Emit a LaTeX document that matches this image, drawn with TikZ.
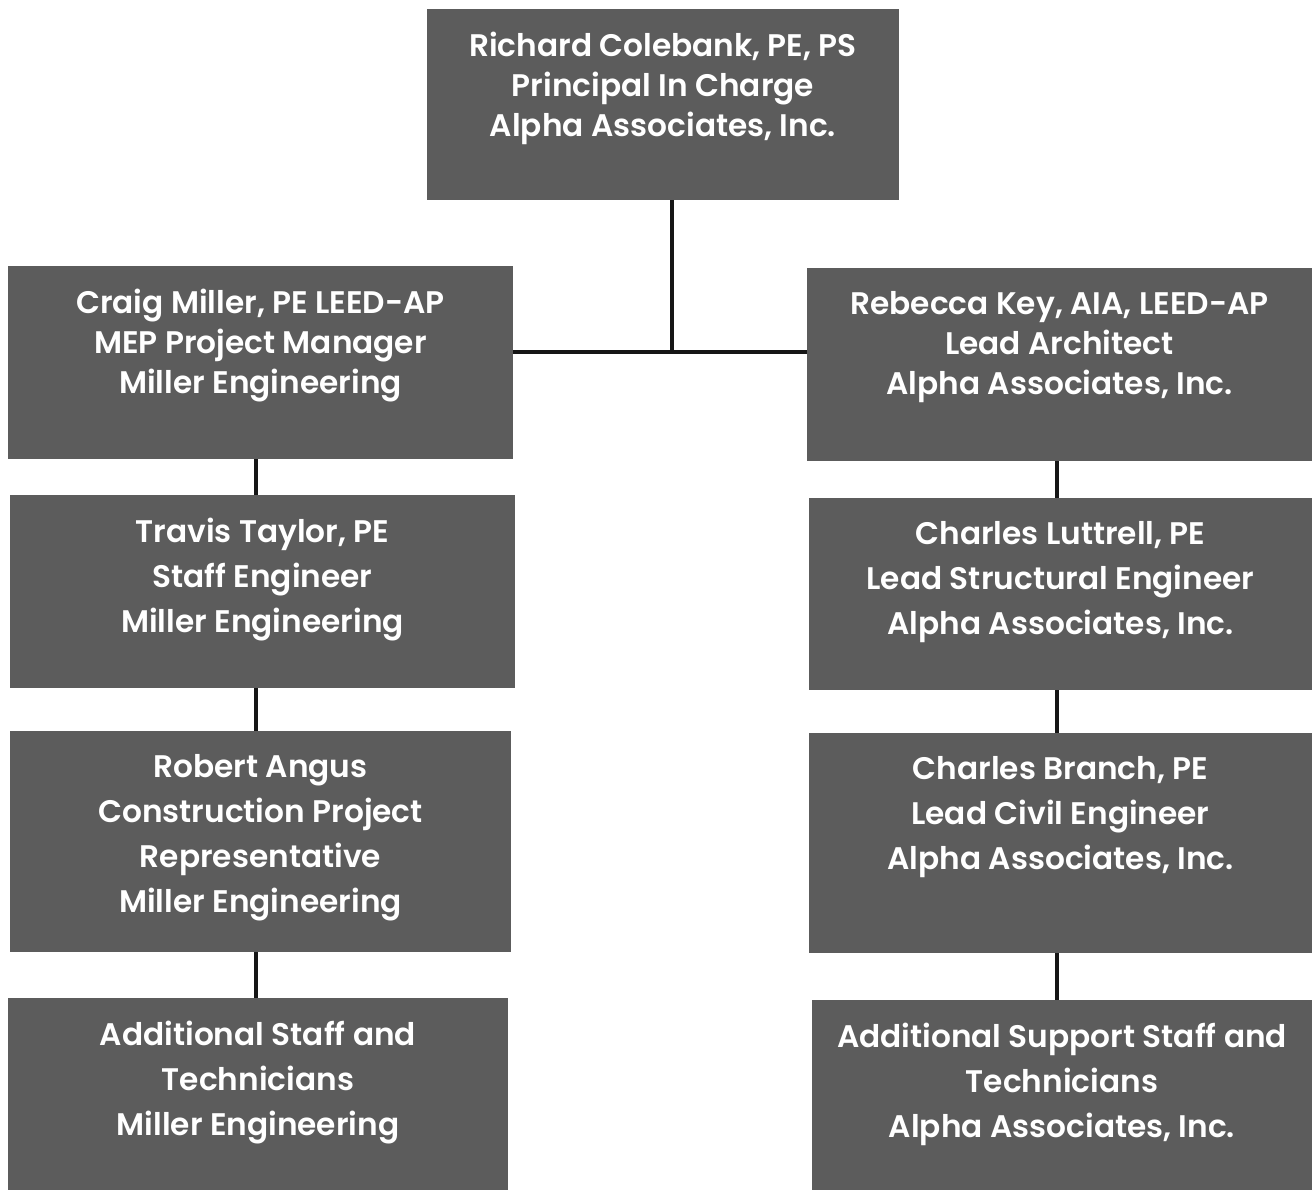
\documentclass[tikz,border=0pt]{standalone}
\usepackage{fontspec}
\newfontfamily\orgfont{Poppins}[UprightFont=* Medium, BoldFont=* SemiBold]
\usetikzlibrary{positioning,calc}
\definecolor{cardgray}{RGB}{92,92,92}
\definecolor{wire}{RGB}{22,22,22}

\begin{document}
\begin{tikzpicture}[
  x=0.5pt, y=-0.5pt,
  card/.style={rectangle, fill=cardgray, inner sep=0pt, outer sep=0pt},
  who/.style={align=center, inner sep=0pt, text=white, font=\orgfont\bfseries\fontsize{15.6}{22.5}\selectfont},
  whotop/.style={who, font=\orgfont\bfseries\fontsize{15.6}{20}\selectfont},
  link/.style={draw=wire, line width=2pt},
]
\useasboundingbox (0,0) rectangle (1312,1190);

% === Principal ===
\node[card, minimum width=236pt, minimum height=95.5pt] (colebank) at (663,104.5) {};
\node[whotop, below=11.3pt of colebank.north] (colebank-t) {Richard Colebank, PE, PS\\Principal In Charge\\Alpha Associates, Inc.};

% === Left column: Miller Engineering ===
\node[card, minimum width=252.5pt, minimum height=96.5pt] (miller) at (260.5,362.5) {};
\node[whotop, below=11.3pt of miller.north] (miller-t) {Craig Miller, PE LEED-AP\\MEP Project Manager\\Miller Engineering};

\node[card, minimum width=252.5pt, minimum height=96.5pt] (taylor) at (262.5,591.5) {};
\node[who, below=11.3pt of taylor.north] (taylor-t) {Travis Taylor, PE\\Staff Engineer\\Miller Engineering};

\node[card, minimum width=250.5pt, minimum height=110.5pt] (angus) at (260.5,841.5) {};
\node[who, below=11.3pt of angus.north] (angus-t) {Robert Angus\\Construction Project\\Representative\\Miller Engineering};

\node[card, minimum width=250pt, minimum height=96pt] (staffL) at (258,1094) {};
\node[who, below=11.3pt of staffL.north] (staffL-t) {Additional Staff and\\Technicians\\Miller Engineering};

% === Right column: Alpha Associates ===
\node[card, minimum width=252.5pt, minimum height=96.5pt] (key) at (1059.5,364.5) {};
\node[whotop, below=11.3pt of key.north] (key-t) {Rebecca Key, AIA, LEED-AP\\Lead Architect\\Alpha Associates, Inc.};

\node[card, minimum width=251.5pt, minimum height=96pt] (luttrell) at (1060.5,594) {};
\node[who, below=11.3pt of luttrell.north] (luttrell-t) {Charles Luttrell, PE\\Lead Structural Engineer\\Alpha Associates, Inc.};

\node[card, minimum width=251.5pt, minimum height=110pt] (branch) at (1060.5,843) {};
\node[who, below=11.3pt of branch.north] (branch-t) {Charles Branch, PE\\Lead Civil Engineer\\Alpha Associates, Inc.};

\node[card, minimum width=250pt, minimum height=95pt] (staffR) at (1062,1095) {};
\node[who, below=11.3pt of staffR.north] (staffR-t) {Additional Support Staff and\\Technicians\\Alpha Associates, Inc.};

% === Connectors ===
\coordinate (hub) at (672,352);
\coordinate (spineL) at (256,0);
\coordinate (spineR) at (1057,0);
\draw[link] (colebank.south -| hub) -- (hub);
\draw[link] (miller.east |- hub) -- (key.west |- hub);

\draw[link] (miller.south -| spineL) -- (taylor.north -| spineL);
\draw[link] (taylor.south -| spineL) -- (angus.north -| spineL);
\draw[link] (angus.south -| spineL) -- (staffL.north -| spineL);

\draw[link] (key.south -| spineR) -- (luttrell.north -| spineR);
\draw[link] (luttrell.south -| spineR) -- (branch.north -| spineR);
\draw[link] (branch.south -| spineR) -- (staffR.north -| spineR);

\end{tikzpicture}
\end{document}
